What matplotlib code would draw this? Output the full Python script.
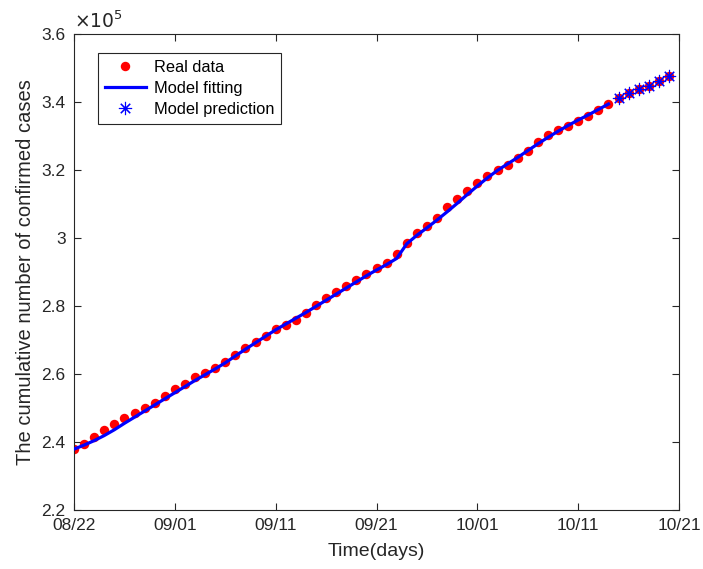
import matplotlib

matplotlib.use("Agg")
import matplotlib.pyplot as plt
import matplotlib.dates as mdates
from matplotlib.ticker import FuncFormatter
import numpy as np
import pandas as pd

plt.rcParams["font.family"] = ["Liberation Sans", "DejaVu Sans"]

START = "2020-08-22"

# cumulative confirmed cases, one value per day from 08/22
real_cases = [
    237850, 239300, 241470, 243500, 245200, 247000, 248600, 250000, 251500, 253600,
    255500, 257150, 259000, 260400, 261850, 263500, 265500, 267560, 269400, 271260,
    273100, 274500, 275900, 278000, 280150, 282350, 284100, 285970, 287600, 289300,
    291100, 292700, 295300, 298400, 301400, 303600, 306000, 309000, 311500, 313900,
    316300, 318200, 320100, 321500, 323400, 325700, 328200, 330200, 331800, 333000,
    334500, 335800, 337700, 339500, 341260, 342650, 343700, 344800, 346260, 347700,
]

# model fitting over the first 54 days
fit_cases = [
    237900, 239100, 240400, 241900, 243600, 245500, 247300, 249100, 250900, 252700,
    254500, 256300, 258100, 259800, 261500, 263300, 265300, 267300, 269200, 271100,
    273000, 274700, 276400, 278100, 279900, 281700, 283500, 285300, 287100, 288900,
    290600, 292200, 294000, 298300, 300800, 303000, 305300, 307700, 310200, 312800,
    315300, 317700, 319900, 321800, 323700, 325700, 327700, 329600, 331400, 333100,
    334700, 336200, 337800, 339400,
]

# model prediction for the last six days
pred_cases = [341260, 342650, 343700, 344800, 346260, 347700]

days_real = pd.date_range(START, periods=len(real_cases), freq="D")
days_fit = days_real[: len(fit_cases)]
days_pred = days_real[len(real_cases) - len(pred_cases):]

scale = 1e5
text_color = "#262626"

fig = plt.figure(figsize=(7.03, 5.69), dpi=100)
ax = fig.add_axes([0.1053, 0.1037, 0.8606, 0.8365])

ax.plot(days_real, np.array(real_cases) / scale, "o", color="#ff0000", markersize=6.8,
        markeredgewidth=0, label="Real data", zorder=2)
ax.plot(days_fit, np.array(fit_cases) / scale, "-", color="#0000ff", linewidth=2.3,
        label="Model fitting", zorder=3)
ax.plot(days_pred, np.array(pred_cases) / scale, linestyle="none", marker=(8, 2, 0),
        color="#0000ff", markersize=9.5, markeredgewidth=0.8, label="Model prediction", zorder=4)

ax.set_xlim(pd.Timestamp("2020-08-22"), pd.Timestamp("2020-10-21"))
ax.set_ylim(2.2, 3.6)
ax.set_xticks(pd.date_range(START, periods=7, freq="10D"))
ax.xaxis.set_major_formatter(mdates.DateFormatter("%m/%d"))
ax.set_yticks(np.arange(2.2, 3.61, 0.2))
ax.yaxis.set_major_formatter(FuncFormatter(lambda v, _: f"{v:g}"))

ax.tick_params(direction="in", top=True, right=True, length=5, width=0.8,
               colors=text_color, labelsize=12.5, pad=6)
for spine in ax.spines.values():
    spine.set_color(text_color)
    spine.set_linewidth(0.8)

ax.set_xlabel("Time(days)", fontsize=14, color=text_color, labelpad=7)
ax.set_ylabel("The cumulative number of confirmed cases", fontsize=14.5,
              color=text_color, labelpad=5)
ax.text(0.0, 1.004, r"$\times 10^5$", transform=ax.transAxes, fontsize=13.5,
        color=text_color, ha="left", va="bottom")

leg = ax.legend(loc="upper left", bbox_to_anchor=(0.04, 0.96), fontsize=11.8,
                frameon=True, fancybox=False, framealpha=1, edgecolor=text_color,
                borderpad=0.4, handlelength=2.5, handletextpad=0.5,
                labelspacing=0.38, borderaxespad=0)
leg.get_frame().set_linewidth(0.8)

fig.savefig("out.png", dpi=100)
